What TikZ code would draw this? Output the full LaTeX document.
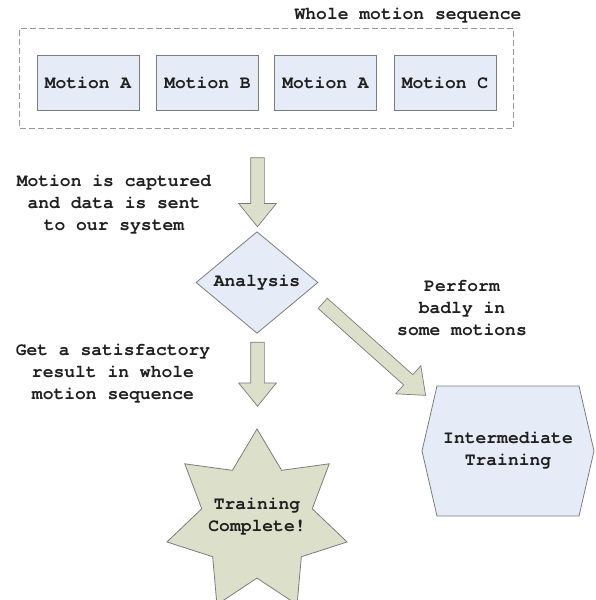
\documentclass[tikz,border=0pt]{standalone}
\usepackage{fontspec}
\setmonofont{texgyrecursor}[Extension=.otf, UprightFont=*-regular, BoldFont=*-bold]
\usetikzlibrary{shapes.geometric,shapes.arrows}
\definecolor{boxfill}{HTML}{E6ECF7}
\definecolor{arrowfill}{HTML}{DCDFC9}
\definecolor{edgegray}{HTML}{7C7C7C}
\definecolor{dashgray}{HTML}{9A9A9A}
\tikzset{
  txt/.style={font=\ttfamily\bfseries\fontsize{18}{22}\selectfont, text=black!88, align=center, inner sep=0pt},
  motionbox/.style={txt, draw=edgegray, fill=boxfill, line width=0.9pt, minimum width=102pt, minimum height=55pt},
  blockarrow/.style={single arrow, draw=edgegray, fill=arrowfill, line width=0.7pt, inner sep=6.5pt,
    single arrow head extend=12pt, single arrow tip angle=78, minimum height=#1},
}
\begin{document}
\begin{tikzpicture}[x=1pt,y=-1pt]
\useasboundingbox (0,0) rectangle (595,600);

% whole sequence
\node (seq) [draw=dashgray, line width=0.8pt, dash pattern=on 6pt off 3pt, minimum width=493.5pt, minimum height=100pt] at (266.25,78) {};
\node (seqtitle) [txt] at (408,16) {Whole motion sequence};
\node (m1) [motionbox] at (88,82.5) {Motion A};
\node (m2) [motionbox] at (207.5,82.5) {Motion B};
\node (m3) [motionbox] at (325.5,82.5) {Motion A};
\node (m4) [motionbox] at (445,82.5) {Motion C};

% analysis
\node (analysis) [diamond, txt, draw=edgegray, fill=boxfill, line width=0.8pt, minimum width=122pt, minimum height=91pt] at (257,282.5) {Analysis};

% block arrows
\coordinate (a1c) at (257.5,188);
\coordinate (a2c) at (257.5,370);
\coordinate (a3c) at (371,346.5);
\node (arrow1) [blockarrow=69pt, rotate=-90] at (a1c) {};
\node (arrow2) [blockarrow=64pt, rotate=-90] at (a2c) {};
\node (arrow3) [blockarrow=138pt, rotate=-41.8] at (a3c) {};

% labels
\node (lab1) [txt] at (114,205) {Motion is captured\\and data is sent\\to our system};
\node (lab2) [txt] at (113,374) {Get a satisfactory\\result in whole\\motion sequence};
\node (lab3) [txt] at (462,308) {Perform\\badly in\\some motions};

% intermediate training
\coordinate (interc) at (508,451);
\filldraw[shift={(interc)}, draw=edgegray, fill=boxfill, line width=0.8pt]
  (-86,0) -- (-71,-65) -- (71,-65) -- (86,0) -- (71,65) -- (-71,65) -- cycle;
\node (inter) [txt] at (interc) {Intermediate\\Training};

% training complete
\node (done) [star, star points=7, star point ratio=1.63, minimum size=184.8pt, inner sep=0pt, draw=edgegray, fill=arrowfill, line width=0.8pt] at (257,521.4) {};
\node (donetext) [txt] at (257,517) {Training\\Complete!};
\end{tikzpicture}
\end{document}
